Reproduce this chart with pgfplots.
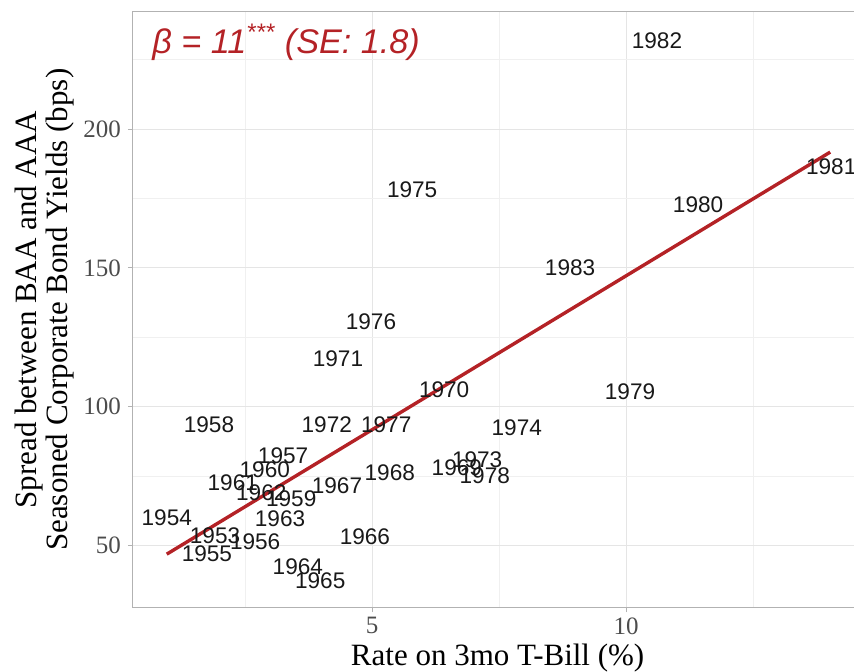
\documentclass[border=0pt]{standalone}
\usepackage{fontspec}
\setmainfont{Liberation Serif}
\newfontfamily\lsans{Liberation Sans}
\usepackage{pgfplots}
\usepackage{pgfplotstable}
\pgfplotsset{compat=1.18}
\definecolor{fire}{RGB}{180,34,38}

\pgfplotstableread{
x y lab
10.61 231.7 1982
14.04 186.6 1981
11.42 172.6 1980
5.79 178.0 1975
8.90 150.2 1983
4.98 130.4 1976
4.33 117.4 1971
6.42 105.9 1970
10.08 105.5 1979
1.79 93.6 1958
4.11 93.6 1972
5.28 93.6 1977
7.85 92.5 1974
3.25 82.4 1957
2.89 77.4 1960
6.67 78.1 1969
7.07 81.0 1973
7.22 75.2 1978
5.35 76.0 1968
4.31 71.6 1967
2.26 72.4 1961
2.82 69.1 1962
3.41 66.9 1959
0.96 60.1 1954
3.19 59.7 1963
1.91 53.6 1953
2.70 51.1 1956
1.75 47.1 1955
4.86 53.2 1966
3.54 42.1 1964
3.98 37.4 1965
}\years

\begin{document}
\begin{tikzpicture}
\begin{axis}[
  scale only axis, width=364.6pt, height=297.7pt,
  xmin=0.295, xmax=14.65, ymin=27.6, ymax=242.2,
  xtick={5,10}, ytick={50,100,150,200},
  minor xtick={2.5,7.5,12.5}, minor ytick={75,125,175,225},
  grid=both,
  major grid style={draw=black!10, line width=0.5pt},
  minor grid style={draw=black!6, line width=0.35pt},
  axis line style={draw=black!30, line width=0.5pt},
  tick align=outside, tick pos=left,
  major tick length=2.5pt, minor tick length=0pt,
  tick style={draw=black!30, line width=0.5pt},
  ticklabel style={font=\fontsize{12.5}{14}\selectfont, text=black!70},
  xticklabel style={yshift=1pt},
  /pgf/number format/assume math mode=true,
  xlabel={Rate on 3mo T-Bill (\%)},
  ylabel={Spread between BAA and AAA\\Seasoned Corporate Bond Yields (bps)},
  label style={font=\fontsize{15.5}{14}\selectfont},
  xlabel style={yshift=2pt},
  ylabel style={align=center},
  ylabel shift=-2pt,
  clip=false,
]
\addplot[fire, line width=1.7pt] coordinates {(0.96,46.8) (14.02,191.7)};
\addplot[only marks, mark=none, nodes near coords, point meta=explicit symbolic,
  nodes near coords style={anchor=center, font=\lsans\fontsize{11.3}{12}\selectfont, text=black!90, inner sep=0pt}]
  table[meta=lab] {\years};
\node[anchor=west, text=fire, font=\lsans\itshape\fontsize{17.1}{19}\selectfont, inner sep=0pt] at (axis cs:0.67,231.3) {β = 11\textsuperscript{***} (SE: 1.8)};
\coordinate (SW) at (rel axis cs:0,0);
\coordinate (NW) at (rel axis cs:0,1);
\end{axis}
\pgfresetboundingbox
\path[use as bounding box] ([xshift=-66.5pt, yshift=-32pt]SW) rectangle ([xshift=360.5pt, yshift=6pt]NW);
\end{tikzpicture}
\end{document}
